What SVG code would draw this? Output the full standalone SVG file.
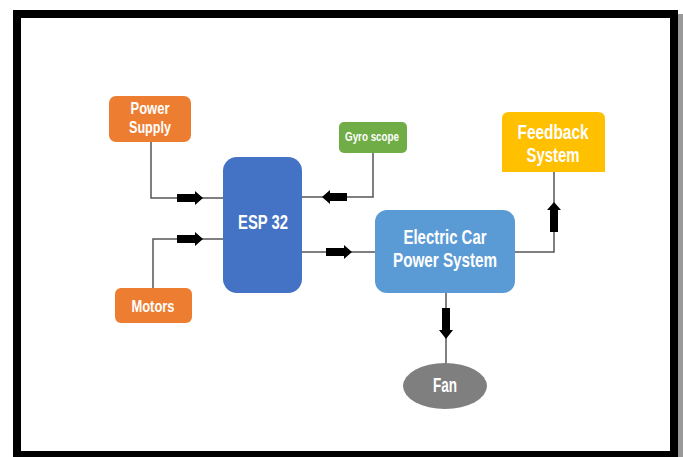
<svg xmlns="http://www.w3.org/2000/svg" width="683" height="457" viewBox="0 0 683 457">
<style>
.t{font-family:"Liberation Sans",Arial,sans-serif;font-weight:bold;fill:#fff;text-anchor:middle}
.ln{fill:none;stroke:#555;stroke-width:1.5}
.ar{fill:#000}
</style>
<rect width="683" height="457" fill="#fff"/>
<rect x="678" y="14" width="5" height="443" fill="#999"/>
<rect x="17" y="14" width="657" height="441" fill="#fff" stroke="#000" stroke-width="8"/>
<g id="connectors">
<polyline class="ln" points="151,142 151,198 223,198"/>
<polygon class="ar" points="177,194 195,194 195,191 203,198 195,205 195,202 177,202"/>
<polyline class="ln" points="153,288 153,239 223,239"/>
<polygon class="ar" points="177,235 195,235 195,232 203,239 195,246 195,243 177,243"/>
<polyline class="ln" points="373,153 373,197 302,197"/>
<polygon class="ar" points="347,193 330,193 330,190 322,197 330,204 330,201 347,201"/>
<line class="ln" x1="302" y1="252" x2="375" y2="252"/>
<polygon class="ar" points="326,248 344,248 344,245 352,252 344,259 344,256 326,256"/>
<polyline class="ln" points="515,252 554,252 554,172"/>
<polygon class="ar" points="550,232 550,210 547,210 554,202 561,210 558,210 558,232"/>
<line class="ln" x1="446" y1="293" x2="446" y2="363"/>
<polygon class="ar" points="442,308 442,330 439,330 446,339 453,330 450,330 450,308"/>
</g>
<g id="power-supply">
<rect x="109" y="96" width="82" height="46" rx="7" fill="#ED7D31"/>
<text class="t" x="150" y="114" font-size="17" textLength="39" lengthAdjust="spacingAndGlyphs">Power</text>
<text class="t" x="150" y="133" font-size="17" textLength="42" lengthAdjust="spacingAndGlyphs">Supply</text>
</g>
<g id="motors">
<rect x="115" y="288" width="77" height="35" rx="6" fill="#ED7D31"/>
<text class="t" x="153" y="312" font-size="17" textLength="43" lengthAdjust="spacingAndGlyphs">Motors</text>
</g>
<g id="esp32">
<rect x="223" y="157" width="79" height="136" rx="14" fill="#4472C4"/>
<text class="t" x="263" y="229" font-size="20" textLength="50" lengthAdjust="spacingAndGlyphs">ESP 32</text>
</g>
<g id="gyroscope">
<rect x="339" y="122" width="68" height="31" rx="5" fill="#70AD47"/>
<text class="t" x="372" y="141" font-size="12.5" textLength="54" lengthAdjust="spacingAndGlyphs">Gyro scope</text>
</g>
<g id="electric-car">
<rect x="375" y="210" width="140" height="83" rx="12" fill="#5B9BD5"/>
<text class="t" x="445" y="244" font-size="20.5" textLength="83" lengthAdjust="spacingAndGlyphs">Electric Car</text>
<text class="t" x="445" y="267" font-size="20.5" textLength="104" lengthAdjust="spacingAndGlyphs">Power System</text>
</g>
<g id="feedback">
<path d="M502,172 V119 Q502,112 509,112 H598 Q605,112 605,119 V172 Z" fill="#FFC000"/>
<text class="t" x="553" y="139" font-size="20" textLength="71" lengthAdjust="spacingAndGlyphs">Feedback</text>
<text class="t" x="553" y="162" font-size="20" textLength="53" lengthAdjust="spacingAndGlyphs">System</text>
</g>
<g id="fan">
<ellipse cx="445" cy="386" rx="42" ry="23" fill="#7F7F7F"/>
<text class="t" x="445" y="392" font-size="20" textLength="24" lengthAdjust="spacingAndGlyphs">Fan</text>
</g>
</svg>
